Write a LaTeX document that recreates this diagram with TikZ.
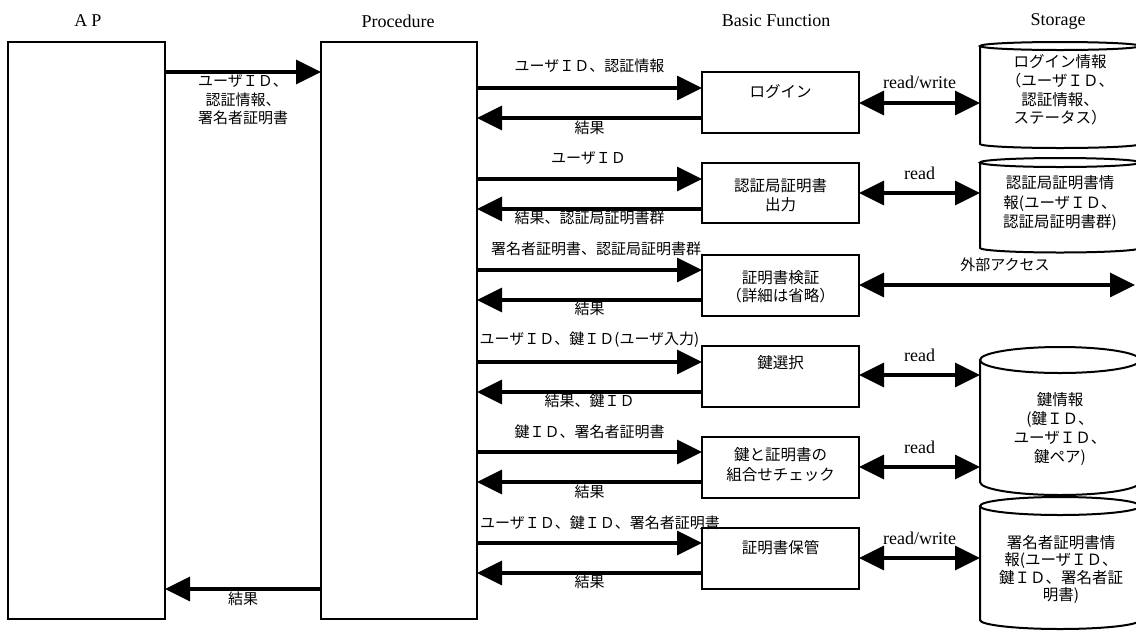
\documentclass[tikz,border=0pt]{standalone}
\usepackage{fontspec}
\newfontfamily\jp{Noto Sans CJK JP}
\newfontfamily\lat{Liberation Serif}
\usetikzlibrary{arrows.meta}

\begin{document}
\begin{tikzpicture}[x=1pt,y=-1pt,
  every node/.style={inner sep=0pt, outer sep=0pt},
  lane/.style={draw, line width=2pt, anchor=north west},
  fbox/.style={draw, line width=2pt, anchor=north west, minimum width=157pt, minimum height=61pt},
  store/.style={minimum width=160pt},
  cyl/.style={line width=2pt},
  tip/.tip={Triangle[length=25pt,width=24pt]},
  flow/.style={line width=3.5pt, -tip},
  both/.style={line width=3.5pt, tip-tip},
  head/.style={font=\lat\fontsize{18}{21}\selectfont},
  rw/.style={font=\lat\fontsize{18}{21}\selectfont},
  lbl/.style={font=\jp\fontsize{15}{18}\selectfont, align=center},
  txt/.style={font=\jp\fontsize{15.5}{19}\selectfont, align=center},
]
\clip (0,0) rectangle (1136,630);

% column headings
\node[head] (hap)  at (88,21)   {A\hspace{4pt}P};
\node[head] (hpr)  at (398,21)  {Procedure};
\node[head] (hbf)  at (776,21)  {Basic Function};
\node[head] (hst)  at (1058,21) {Storage};

% lanes
\node[lane, minimum width=157pt, minimum height=577pt] (ap)   at (8,42)   {};
\node[lane, minimum width=156pt, minimum height=577pt] (proc) at (321,42) {};

% basic functions
\node[fbox] (f1) at (702,72)  {};
\node[fbox, minimum height=60pt] (f2) at (702,163) {};
\node[fbox] (f3) at (702,255) {};
\node[fbox] (f4) at (702,346) {};
\node[fbox] (f5) at (702,437) {};
\node[fbox] (f6) at (702,528) {};

\node[txt] (f1t) at (780.5,92)  {ログイン};
\node[txt] (f2t) at (780.5,195) {認証局証明書\\出力};
\node[txt, font=\jp\fontsize{15.5}{17.5}\selectfont] (f3t) at (780.5,286.5) {証明書検証\\（詳細は省略）};
\node[txt] (f4t) at (780.5,363) {鍵選択};
\node[txt, font=\jp\fontsize{15.5}{20}\selectfont] (f5t) at (780.5,465) {鍵と証明書の\\組合せチェック};
\node[txt] (f6t) at (780.5,548) {証明書保管};

% storage cylinders (body between the centres of the end ellipses)
\node[store, minimum height=98pt]   (c1) at (1060,95)     {};
\node[store, minimum height=85.5pt] (c2) at (1060,205.25) {};
\node[store, minimum height=122pt]  (c3) at (1060,421)    {};
\node[store, minimum height=114pt]  (c4) at (1060,563)    {};

\foreach \c/\r in {c1/4, c2/4.5, c3/13, c4/9}{
  \draw[cyl] (\c.north west) -- (\c.south west)
    arc[start angle=180, end angle=360, x radius=80pt, y radius=\r pt]
    -- (\c.north east);
  \draw[cyl] (\c.north) ellipse[x radius=80pt, y radius=\r pt];
}

\node[txt, font=\jp\fontsize{15.5}{18.7}\selectfont] (c1t) at (1060,90)
  {ログイン情報\\（ユーザＩＤ、\\認証情報、\\ステータス）};
\node[txt, font=\jp\fontsize{15.5}{19.5}\selectfont] (c2t) at (1060,203)
  {認証局証明書情\\報(ユーザＩＤ、\\認証局証明書群)};
\node[txt, font=\jp\fontsize{15.5}{19}\selectfont] (c3t) at (1060,429)
  {鍵情報\\(鍵ＩＤ、\\ユーザＩＤ、\\鍵ペア)};
\node[txt, font=\jp\fontsize{15.5}{17.5}\selectfont] (c4t) at (1061,569.5)
  {署名者証明書情\\報(ユーザＩＤ、\\鍵ＩＤ、署名者証\\明書)};

% row levels
\coordinate (ra) at (0,72);
\coordinate (rz) at (0,589);
\coordinate (r1a) at (0,88);  \coordinate (r1b) at (0,118); \coordinate (s1) at (0,103);
\coordinate (r2a) at (0,179); \coordinate (r2b) at (0,209); \coordinate (s2) at (0,193);
\coordinate (r3a) at (0,270); \coordinate (r3b) at (0,300); \coordinate (ext) at (1135,285);
\coordinate (r4a) at (0,362); \coordinate (r4b) at (0,392); \coordinate (s4) at (0,375);
\coordinate (r5a) at (0,452); \coordinate (r5b) at (0,482); \coordinate (s5) at (0,467);
\coordinate (r6a) at (0,543); \coordinate (r6b) at (0,573); \coordinate (s6) at (0,558);

% AP <-> Procedure
\draw[flow] (ap.east |- ra) -- (proc.west |- ra)
  node[lbl, font=\jp\fontsize{15}{18.5}\selectfont, midway, yshift=-28pt] {ユーザＩＤ、\\認証情報、\\署名者証明書};
\draw[flow] (proc.west |- rz) -- (ap.east |- rz)
  node[lbl, midway, yshift=-10pt] {結果};

% Procedure <-> basic functions
\draw[flow] (proc.east |- r1a) -- (f1.west |- r1a) node[lbl, midway, yshift=22pt] {ユーザＩＤ、認証情報};
\draw[flow] (f1.west |- r1b) -- (proc.east |- r1b) node[lbl, midway, yshift=-10pt] {結果};

\draw[flow] (proc.east |- r2a) -- (f2.west |- r2a) node[lbl, midway, yshift=21pt, xshift=-1pt] {ユーザＩＤ};
\draw[flow] (f2.west |- r2b) -- (proc.east |- r2b) node[lbl, midway, yshift=-9pt] {結果、認証局証明書群};

\draw[flow] (proc.east |- r3a) -- (f3.west |- r3a) node[lbl, midway, yshift=21pt, xshift=6.5pt] {署名者証明書、認証局証明書群};
\draw[flow] (f3.west |- r3b) -- (proc.east |- r3b) node[lbl, midway, yshift=-9pt] {結果};

\draw[flow] (proc.east |- r4a) -- (f4.west |- r4a) node[lbl, midway, yshift=22pt] {ユーザＩＤ、鍵ＩＤ(ユーザ入力)};
\draw[flow] (f4.west |- r4b) -- (proc.east |- r4b) node[lbl, midway, yshift=-9pt] {結果、鍵ＩＤ};

\draw[flow] (proc.east |- r5a) -- (f5.west |- r5a) node[lbl, midway, yshift=20pt] {鍵ＩＤ、署名者証明書};
\draw[flow] (f5.west |- r5b) -- (proc.east |- r5b) node[lbl, midway, yshift=-10pt] {結果};

\draw[flow] (proc.east |- r6a) -- (f6.west |- r6a) node[lbl, midway, yshift=20pt, xshift=10.5pt] {ユーザＩＤ、鍵ＩＤ、署名者証明書};
\draw[flow] (f6.west |- r6b) -- (proc.east |- r6b) node[lbl, midway, yshift=-9pt] {結果};

% basic functions <-> storage
\draw[both] (f1.east |- s1) -- (c1.west |- s1) node[rw, midway, yshift=21pt] {read/write};
\draw[both] (f2.east |- s2) -- (c2.west |- s2) node[rw, midway, yshift=20pt] {read};
\draw[both] (f3.east |- ext) -- (ext) node[lbl, midway, yshift=20pt, xshift=8pt] {外部アクセス};
\draw[both] (f4.east |- s4) -- (c3.west |- s4) node[rw, midway, yshift=20pt] {read};
\draw[both] (f5.east |- s5) -- (c3.west |- s5) node[rw, midway, yshift=20pt] {read};
\draw[both] (f6.east |- s6) -- (c4.west |- s6) node[rw, midway, yshift=20pt] {read/write};
\end{tikzpicture}
\end{document}
